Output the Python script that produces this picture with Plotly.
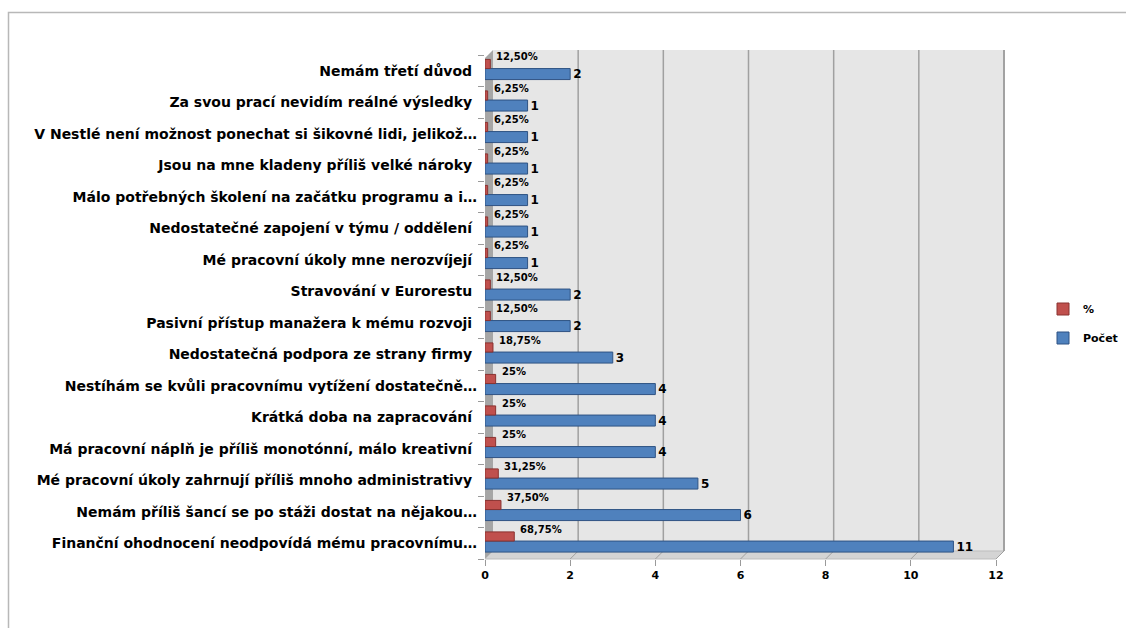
import plotly.graph_objects as go

# Survey reasons, listed from bottom of the chart to the top
categories = [
    "Finanční ohodnocení neodpovídá mému pracovnímu…",
    "Nemám příliš šancí se po stáži dostat na nějakou…",
    "Mé pracovní úkoly zahrnují příliš mnoho administrativy\u00a0",
    "Má pracovní náplň je příliš monotónní, málo kreativní\u00a0",
    "Krátká doba na zapracování\u00a0",
    "Nestíhám se kvůli pracovnímu vytížení dostatečně…",
    "Nedostatečná podpora ze strany firmy\u00a0",
    "Pasivní přístup manažera k mému rozvoji\u00a0",
    "Stravování v Eurorestu\u00a0",
    "Mé pracovní úkoly mne nerozvíjejí\u00a0",
    "Nedostatečné zapojení v týmu / oddělení\u00a0",
    "Málo potřebných školení na začátku programu a i…",
    "Jsou na mne kladeny příliš velké nároky\u00a0",
    "V Nestlé není možnost ponechat si šikovné lidi, jelikož…",
    "Za svou prací nevidím reálné výsledky\u00a0",
    "Nemám třetí důvod\u00a0",
]
pocet = [11, 6, 5, 4, 4, 4, 3, 2, 2, 1, 1, 1, 1, 1, 1, 2]
procenta = [0.6875, 0.375, 0.3125, 0.25, 0.25, 0.25, 0.1875, 0.125, 0.125,
            0.0625, 0.0625, 0.0625, 0.0625, 0.0625, 0.0625, 0.125]
x_ticks = [0, 2, 4, 6, 8, 10, 12]

W, H = 1126, 628
ML, MR, MT, MB = 485, 130, 55, 69
PW, PH = W - ML - MR, H - MT - MB
X_MAX = 12
DX, DY = 8, 8  # oblique depth of the 3D walls


def px(xp):
    return (xp - ML) / PW


def py(yp):
    return (H - MB - yp) / PH


def xval_px(v):
    return ML + v / X_MAX * PW


def pct_label(v):
    p = v * 100
    s = f"{p:.0f}" if abs(p - round(p)) < 1e-9 else f"{p:.2f}"
    return s.replace(".", ",") + "%"


BLUE, BLUE_EDGE = "#4f81bd", "#2f5384"
RED, RED_EDGE = "#c0504d", "#8a3230"
FONT = "DejaVu Sans"

fig = go.Figure()
fig.add_trace(go.Bar(
    y=categories, x=pocet, orientation="h", name="Počet",
    marker=dict(color=BLUE, line=dict(color=BLUE_EDGE, width=1)),
    width=0.35, offset=-0.28,
    text=[str(v) for v in pocet], textposition="outside",
    constraintext="none", cliponaxis=False,
    textfont=dict(family=FONT, size=12, color="black", weight="bold"),
    legend="legend2",
))
fig.add_trace(go.Bar(
    y=categories, x=procenta, orientation="h", name="%",
    marker=dict(color=RED, line=dict(color=RED_EDGE, width=1)),
    width=0.29, offset=0.07,
    legend="legend",
))

# percentage labels above the red bars
for c, v in zip(categories, procenta):
    fig.add_annotation(
        x=v, y=c, text=pct_label(v), showarrow=False,
        xanchor="left", yanchor="middle", xshift=4, yshift=14,
        font=dict(family=FONT, size=10, color="black", weight="bold"),
    )

shapes = []
# chart area border
shapes.append(dict(type="rect", xref="paper", yref="paper",
                   x0=px(8.5), x1=px(1140), y0=py(12.5), y1=py(640),
                   line=dict(color="#b8b8b8", width=1.5), layer="below"))
bottom = H - MB
top = MT - 5
back_l, back_r = ML + DX, ML + PW + DX
# back wall
shapes.append(dict(type="rect", xref="paper", yref="paper",
                   x0=px(back_l), x1=px(back_r), y0=py(bottom - DY), y1=py(top),
                   fillcolor="#e6e6e6", line=dict(width=0), layer="below"))
shapes.append(dict(type="line", xref="paper", yref="paper",
                   x0=px(back_r), x1=px(back_r), y0=py(bottom - DY), y1=py(top),
                   line=dict(color="#a8a8a8", width=2), layer="below"))
# left wall
shapes.append(dict(type="path", xref="paper", yref="paper",
                   path=f"M{px(ML)},{py(top + DY)} L{px(back_l)},{py(top)} "
                        f"L{px(back_l)},{py(bottom - DY)} L{px(ML)},{py(bottom)} Z",
                   fillcolor="#a6a6a6", line=dict(width=0), layer="below"))
# floor
shapes.append(dict(type="path", xref="paper", yref="paper",
                   path=f"M{px(ML)},{py(bottom)} L{px(back_l)},{py(bottom - DY)} "
                        f"L{px(back_r)},{py(bottom - DY)} L{px(ML + PW)},{py(bottom)} Z",
                   fillcolor="#d4d4d4", line=dict(color="#bdbdbd", width=1), layer="below"))
# gridlines on the back wall and the floor
for v in x_ticks[1:]:
    xf = xval_px(v)
    shapes.append(dict(type="line", xref="paper", yref="paper",
                       x0=px(xf + DX), x1=px(xf + DX), y0=py(bottom - DY), y1=py(top),
                       line=dict(color="#a0a0a0", width=1.5), layer="below"))
    shapes.append(dict(type="line", xref="paper", yref="paper",
                       x0=px(xf), x1=px(xf + DX), y0=py(bottom), y1=py(bottom - DY),
                       line=dict(color="#a0a0a0", width=1), layer="below"))

legend_common = dict(
    xref="container", yref="container",
    xanchor="left", yanchor="middle", bgcolor="rgba(0,0,0,0)",
    font=dict(family=FONT, size=11, color="black", weight="bold"),
    itemwidth=30, tracegroupgap=0,
)

fig.update_layout(
    width=W, height=H,
    margin=dict(l=ML, r=MR, t=MT, b=MB, autoexpand=False),
    paper_bgcolor="white", plot_bgcolor="rgba(0,0,0,0)",
    barmode="overlay",
    showlegend=True,
    legend=dict(x=1043 / W, y=1 - 309 / H, **legend_common),
    legend2=dict(x=1043 / W, y=1 - 338 / H, **legend_common),
    xaxis=dict(
        range=[0, X_MAX], tickvals=x_ticks, ticktext=[str(t) for t in x_ticks],
        showgrid=False, zeroline=False, showline=False, automargin=False,
        ticks="outside", ticklen=6, tickcolor="#9a9a9a",
        tickfont=dict(family=FONT, size=11, color="black", weight="bold"),
    ),
    yaxis=dict(
        categoryorder="array", categoryarray=categories,
        range=[-0.5, len(categories) - 0.5],
        showgrid=False, zeroline=False, showline=False, automargin=False,
        ticks="outside", tickson="boundaries", ticklen=6, tickcolor="#9a9a9a",
        ticklabelstandoff=7,
        tickfont=dict(family=FONT, size=14, color="black", weight="bold"),
    ),
    shapes=shapes,
)

fig.write_html("out.html")
